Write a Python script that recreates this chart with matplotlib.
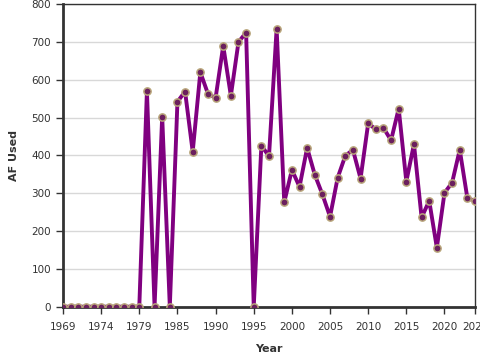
import numpy as np
import matplotlib.pyplot as plt

# Jahre (1983 fehlt in der Reihe)
years = [1969, 1970, 1971, 1972, 1973, 1974, 1975, 1976, 1977, 1978, 1979,
         1980, 1981, 1982, 1984, 1985, 1986, 1987, 1988, 1989, 1990,
         1991, 1992, 1993, 1994, 1995, 1996, 1997, 1998, 1999, 2000,
         2001, 2002, 2003, 2004, 2005, 2006, 2007, 2008, 2009, 2010,
         2011, 2012, 2013, 2014, 2015, 2016, 2017, 2018, 2019, 2020,
         2021, 2022, 2023, 2024]

# AF Used
af_used = [0, 0, 0, 0, 0, 0, 0, 0, 0, 0, 0,
           571, 0, 503, 0, 542, 569, 410, 620, 563, 552,
           690, 558, 700, 725, 0, 426, 398, 735, 276, 362,
           317, 420, 349, 297, 238, 341, 399, 415, 339, 485,
           469, 473, 440, 524, 331, 430, 236, 280, 156, 301,
           328, 415, 287, 280]

x = np.arange(len(years))

fig = plt.figure(figsize=(4.8, 3.6), dpi=100)
ax = fig.add_axes([63 / 480, 1 - 306.7 / 360, 412 / 480, 302.5 / 360])

ax.plot(x, af_used, '-', color='#800080', linewidth=2.8, zorder=3)
ax.plot(x, af_used, 'o', markersize=5.2, markerfacecolor='#6b1f5e',
        markeredgecolor='#b8a57a', markeredgewidth=1.1, zorder=4)

ax.set_xlim(0, len(years) - 1)
ax.set_ylim(0, 800)

# Tick-Labels alle 5 Einträge, plus letzter
ticks = list(range(0, len(years), 5)) + [len(years) - 1]
ax.set_xticks(ticks)
ax.set_xticklabels([str(years[i]) for i in ticks])
ax.set_yticks(np.arange(0, 801, 100))

ax.grid(True, axis='y', color='#d8d8d8', linewidth=1)
ax.set_axisbelow(True)

for side in ['left', 'bottom']:
    ax.spines[side].set_linewidth(2)
    ax.spines[side].set_color('#333333')
for side in ['top', 'right']:
    ax.spines[side].set_linewidth(1)
    ax.spines[side].set_color('#333333')

ax.tick_params(axis='both', labelsize=7.5, colors='#333333', length=5,
               width=1, direction='out')
ax.tick_params(axis='x', pad=6)

ax.set_xlabel("Year", fontsize=8, fontweight='bold', color='#333333', labelpad=9)
ax.set_ylabel("AF Used", fontsize=8, fontweight='bold', color='#333333', labelpad=9)

fig.savefig("out.png", dpi=100)
